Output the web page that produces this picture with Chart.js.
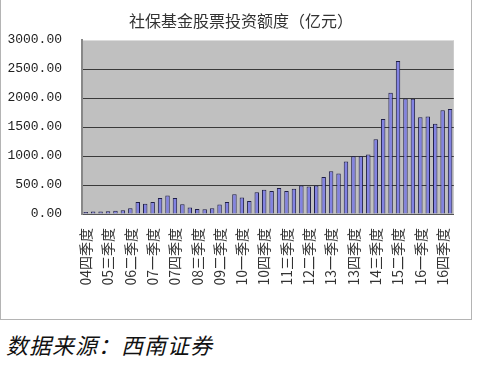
<!DOCTYPE html>
<html>
<head>
<meta charset="utf-8">
<script src="https://cdn.jsdelivr.net/npm/chart.js@4"></script>
<style>
  body { margin: 0; background: #fff; width: 481px; height: 365px; position: relative; overflow: hidden; }
  #wrap { position: absolute; left: 0; top: 0; width: 473px; height: 321px; }
  #frame { position: absolute; left: 0; top: -1px; width: 472px; height: 321px; border: 1px solid #b4b4b4; border-top: none; box-sizing: border-box; }
  #title { position: absolute; left: 0; top: 9px; width: 482px; text-align: center; font-family: "Noto Sans CJK SC", sans-serif; font-size: 16px; color: #333; line-height: 22px; }
  #source { position: absolute; left: 6px; top: 328px; font-family: "Noto Sans CJK SC", sans-serif; font-style: italic; font-size: 22px; color: #111; letter-spacing: 1px; }
</style>
</head>
<body>
<div id="wrap"><canvas id="myChart" width="473" height="321"></canvas></div>
<div id="frame"></div>
<div id="title"></div>
<div id="source">数据来源：西南证券</div>
<script>
const quarters = [
  '04四季度',
  '05一季度', '05二季度', '05三季度', '05四季度',
  '06一季度', '06二季度', '06三季度', '06四季度',
  '07一季度', '07二季度', '07三季度', '07四季度',
  '08一季度', '08二季度', '08三季度', '08四季度',
  '09一季度', '09二季度', '09三季度', '09四季度',
  '10一季度', '10二季度', '10三季度', '10四季度',
  '11一季度', '11二季度', '11三季度', '11四季度',
  '12一季度', '12二季度', '12三季度', '12四季度',
  '13一季度', '13二季度', '13三季度', '13四季度',
  '14一季度', '14二季度', '14三季度', '14四季度',
  '15一季度', '15二季度', '15三季度', '15四季度',
  '16一季度', '16二季度', '16三季度', '16四季度',
  '17一季度'
];

// 社保基金股票投资额度 (亿元)
const amounts = [
  35,
  42, 42, 48, 58,
  65, 100, 206, 178,
  206, 278, 318, 278,
  170, 110, 88, 80,
  100, 165, 205, 340,
  285, 225, 375, 420,
  395, 450, 395, 435,
  490, 472, 490, 640,
  735, 700, 905, 995,
  995, 1025, 1290, 1640,
  2090, 2640, 1990, 1985,
  1670, 1680, 1555, 1790,
  1810
];

const titleText = '社保基金股票投资额度（亿元）';
document.getElementById('title').textContent = titleText;

// gray plot background
const plotBg = {
  id: 'plotBg',
  beforeDraw(chart) {
    const { ctx, chartArea: a } = chart;
    ctx.save();
    ctx.fillStyle = '#c0c0c0';
    ctx.fillRect(a.left, a.top, a.right - a.left, a.bottom - a.top);
    ctx.restore();
  }
};

const ctx = document.getElementById('myChart').getContext('2d');
const myChart = new Chart(ctx, {
  type: 'bar',
  data: {
    labels: quarters,
    datasets: [{
      label: titleText,
      data: amounts,
      backgroundColor: '#8282e2',
      borderColor: '#1e1e48',
      borderWidth: 1,
      barPercentage: 0.6,
      categoryPercentage: 1.0
    }]
  },
  options: {
    responsive: false,
    animation: false,
    layout: { padding: { left: 0, right: 12, top: 40, bottom: 0 } },
    plugins: {
      legend: { display: false },
      tooltip: { enabled: false },
      title: { display: false }
    },
    scales: {
      x: {
        afterFit(scale) { scale.height = 107; },
        grid: { display: false },
        border: { color: '#555', width: 1 },
        ticks: {
          autoSkip: false,
          maxRotation: 90,
          minRotation: 90,
          padding: 6,
          color: '#333',
          font: { family: 'Noto Sans CJK SC', size: 14 },
          callback: function (value, index) {
            return index % 3 === 0 ? this.getLabelForValue(value) : '';
          }
        }
      },
      y: {
        min: 0,
        max: 3000,
        afterFit(scale) { scale.width = 82; },
        border: { color: '#888', width: 2 },
        grid: {
          drawTicks: false,
          color: c => c.tick.value === 3000 ? '#dcdcdc' : '#3a3a3a',
          lineWidth: 1
        },
        ticks: {
          stepSize: 500,
          padding: 20,
          color: '#222',
          font: { family: 'Liberation Mono', size: 13 },
          callback: v => v.toFixed(2)
        }
      }
    }
  },
  plugins: [plotBg]
});
</script>
</body>
</html>
